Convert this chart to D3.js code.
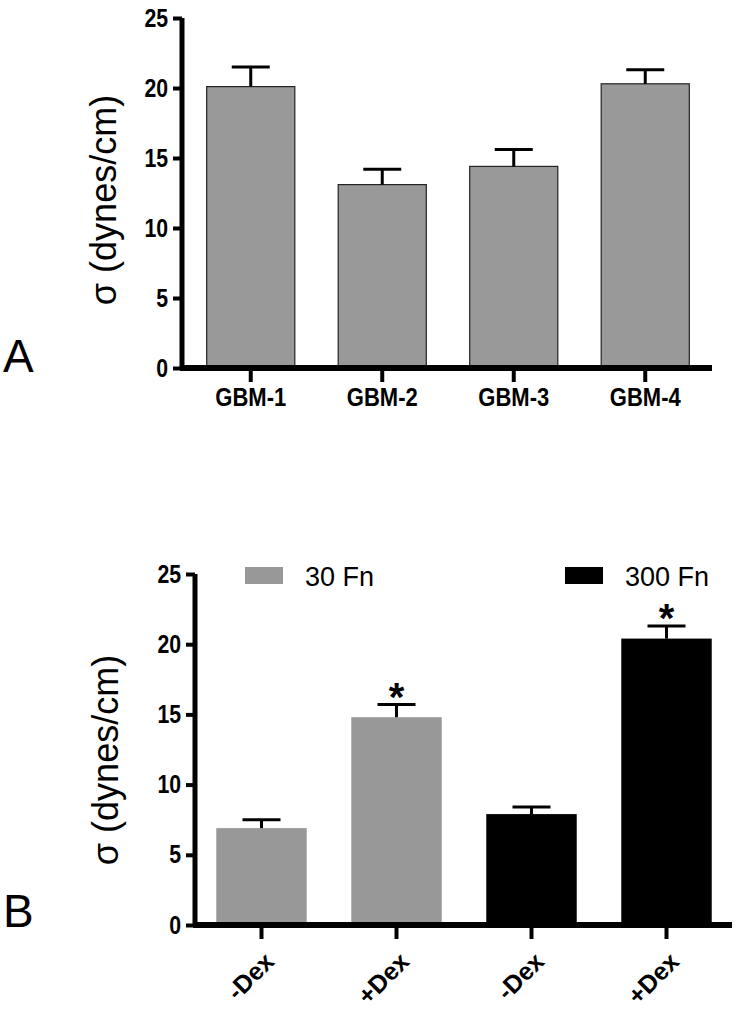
<!DOCTYPE html>
<html lang="en">
<head>
<meta charset="UTF-8">
<title>Surface tension</title>
<style>
body { margin: 0; background: #fff; }
text { font-family: "Liberation Sans", Arial, sans-serif; }
</style>
<script src="https://cdn.jsdelivr.net/npm/d3@7"></script>
</head>
<body>
<svg width="742" height="1017"></svg>
<script>
var catsA = ["GBM-1", "GBM-2", "GBM-3", "GBM-4"],
    valsA = [20.1, 13.1, 14.4, 20.3],
    errA = [1.4, 1.1, 1.2, 1.0];

var catsB = ["-Dex", "+Dex", "-Dex ", "+Dex "],
    groupB = ["30 Fn", "30 Fn", "300 Fn", "300 Fn"],
    valsB = [6.9, 14.8, 7.9, 20.4],
    errB = [0.6, 0.9, 0.5, 0.9],
    starB = [false, true, false, true];

var yTicks = [0, 5, 10, 15, 20, 25];
var colour = d3.scaleOrdinal().domain(["30 Fn", "300 Fn"]).range(["#989898", "#000"]);

var svg = d3.select("svg");

function panel(o) {
    var g = svg.append("g");
    var y = d3.scaleLinear().domain([0, 25]).range([o.y0, o.y1]);
    var x = d3.scaleBand().domain(o.cats).range(o.band).paddingInner(0.33).paddingOuter(0.165);

    g.selectAll(".bar").data(o.vals).enter().append("rect")
        .attr("x", function(d, i) { return x(o.cats[i]); })
        .attr("width", x.bandwidth())
        .attr("y", function(d) { return y(d); })
        .attr("height", function(d) { return y(0) - y(d); })
        .attr("fill", function(d, i) { return o.fill(i); })
        .attr("stroke", o.stroke ? "#222" : "none")
        .attr("stroke-width", 1.2);

    var cx = function(d, i) { return x(o.cats[i]) + x.bandwidth() / 2; };
    var eb = g.selectAll(".err").data(o.vals).enter().append("g");
    eb.append("line")
        .attr("x1", cx).attr("x2", cx)
        .attr("y1", function(d) { return y(d); })
        .attr("y2", function(d, i) { return y(d + o.err[i]); })
        .attr("stroke", "#000").attr("stroke-width", 3);
    eb.append("line")
        .attr("x1", function(d, i) { return cx(d, i) - 19; })
        .attr("x2", function(d, i) { return cx(d, i) + 19; })
        .attr("y1", function(d, i) { return y(d + o.err[i]); })
        .attr("y2", function(d, i) { return y(d + o.err[i]); })
        .attr("stroke", "#000").attr("stroke-width", 3);

    var ya = g.append("g").attr("transform", "translate(" + o.x0 + ",0)")
        .call(d3.axisLeft(y).tickValues(yTicks).tickSize(9).tickPadding(2));
    ya.select(".domain").attr("stroke-width", 5).attr("d", "M0," + (o.y0 + 2) + "V" + o.y1);
    ya.selectAll(".tick line").attr("stroke-width", 4);
    ya.selectAll(".tick text").attr("font-size", 25).attr("font-weight", "bold")
        .attr("transform", "scale(0.85,1)").attr("x", -14 / 0.85);

    var xa = g.append("g").attr("transform", "translate(0," + o.y0 + ")")
        .call(d3.axisBottom(x).tickSize(14).tickPadding(6));
    xa.select(".domain").attr("stroke-width", 6).attr("d", "M" + (o.x0 - 2) + ",0H" + o.x1);
    xa.selectAll(".tick line").attr("stroke-width", 4);
    var xt = xa.selectAll(".tick text").attr("font-size", 25).attr("font-weight", "bold");
    if (o.rotate) {
        xt.attr("text-anchor", "end")
            .attr("y", 0).attr("dy", "0.35em")
            .attr("transform", "translate(8,32) rotate(-45)");
    } else {
        xt.attr("transform", "scale(0.88,1)").attr("x", function() {
            return 0;
        });
        xa.selectAll(".tick").attr("transform", function(d) {
            return "translate(" + (x(d) + x.bandwidth() / 2) + ",0)";
        });
    }

    g.append("text")
        .attr("transform", "translate(" + o.labelX + "," + o.labelY + ") rotate(-90)")
        .attr("text-anchor", "middle")
        .attr("font-size", 36)
        .text("\u03C3 (dynes/cm)");

    g.append("text").attr("x", 3).attr("y", o.letterY)
        .attr("font-size", 46).text(o.letter);

    return { x: x, y: y, g: g };
}

panel({
    cats: catsA, vals: valsA, err: errA,
    x0: 182, x1: 712, y0: 368, y1: 18, band: [185, 711],
    fill: function() { return "#999"; }, stroke: true,
    labelX: 116, labelY: 200, letter: "A", letterY: 372
});

var pB = panel({
    cats: catsB, vals: valsB, err: errB,
    x0: 195, x1: 732, y0: 925, y1: 574, band: [194, 734],
    fill: function(i) { return colour(groupB[i]); }, stroke: false,
    rotate: true,
    labelX: 118, labelY: 760, letter: "B", letterY: 927
});

var stars = valsB.map(function(v, i) { return { c: catsB[i], v: v + errB[i], on: starB[i] }; })
    .filter(function(d) { return d.on; });
pB.g.selectAll(".star").data(stars).enter().append("text")
    .attr("x", function(d) { return pB.x(d.c) + pB.x.bandwidth() / 2; })
    .attr("y", function(d) { return pB.y(d.v) + 14; })
    .attr("text-anchor", "middle").attr("font-size", 40).attr("font-weight", "bold")
    .attr("dy", "-0.2em")
    .text("*");

var legend = [{ k: "30 Fn", x: 245 }, { k: "300 Fn", x: 565 }];
var lg = pB.g.selectAll(".leg").data(legend).enter().append("g")
    .attr("transform", function(d) { return "translate(" + d.x + ",567)"; });
lg.append("rect").attr("width", 38).attr("height", 17).attr("fill", function(d) { return colour(d.k); });
lg.append("text").attr("x", 60).attr("y", 19).attr("font-size", 27).text(function(d) { return d.k; });
</script>
</body>
</html>
